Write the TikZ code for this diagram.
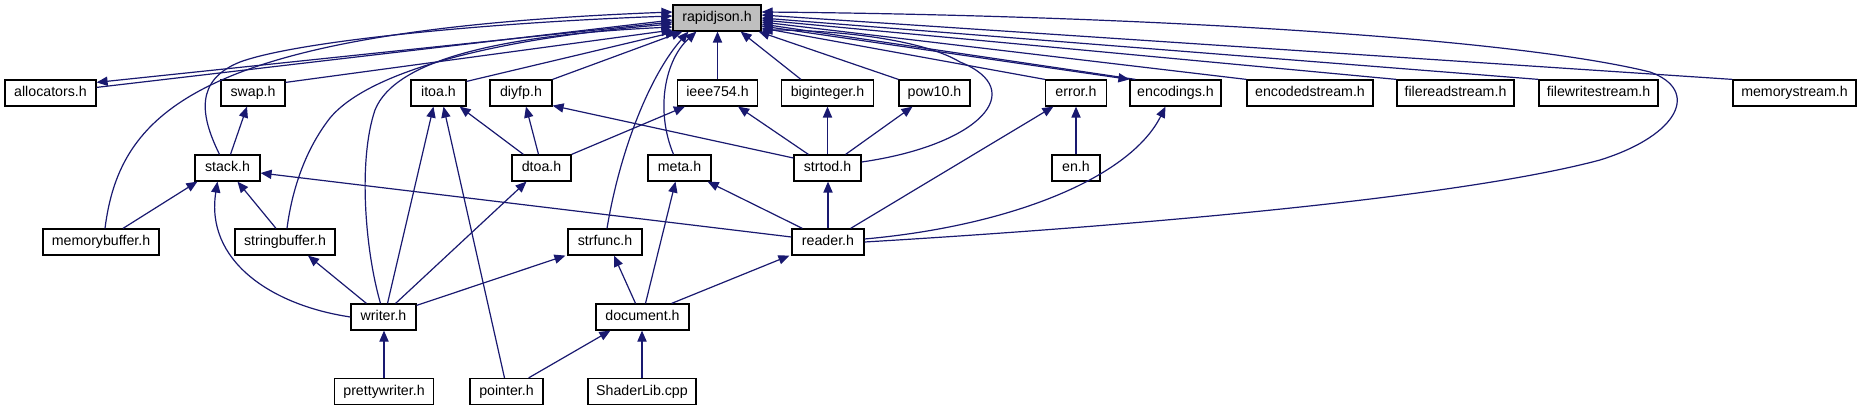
\documentclass[tikz,border=0pt]{standalone}
\usepackage{fontspec}
\setmainfont{Liberation Sans}
\usetikzlibrary{arrows.meta,calc}
\definecolor{mblue}{HTML}{191970}
\definecolor{rjgray}{HTML}{BFBFBF}
\begin{document}
\begin{tikzpicture}[x=0.5pt,y=-0.5pt,
  nd/.style={draw=black, line width=0.6pt, fill=white, minimum height=13pt, inner sep=0pt,
    text height=5.2pt, text depth=1.5pt, font=\fontsize{7.1}{8.5}\selectfont},
  e/.style={draw=mblue, line width=0.6pt, -{Triangle[length=5.5pt,width=4.6pt]}, mblue}]
\fill[white] (0,0) rectangle (1861,411);
\useasboundingbox (0,0) rectangle (1861,411);
% row 0
\node[nd, fill=rjgray, minimum width=44pt] (rj) at (717,18) {rapidjson.h};
% row 1
\node[nd, minimum width=45.5pt] (alloc) at (50.5,93) {allocators.h};
\node[nd, minimum width=32pt] (swap) at (253,93) {swap.h};
\node[nd, minimum width=27.5pt] (itoa) at (438.5,93) {itoa.h};
\node[nd, minimum width=31pt] (diyfp) at (521,93) {diyfp.h};
\node[nd, minimum width=40pt] (ieee) at (717.5,93) {ieee754.h};
\node[nd, minimum width=46pt] (bigint) at (827.5,93) {biginteger.h};
\node[nd, minimum width=35.5pt] (pow10) at (934.5,93) {pow10.h};
\node[nd, minimum width=30.5pt] (error) at (1076,93) {error.h};
\node[nd, minimum width=45.5pt] (enc) at (1175.5,93) {encodings.h};
\node[nd, minimum width=63pt] (encs) at (1310,93) {encodedstream.h};
\node[nd, minimum width=58.5pt] (frs) at (1455.5,93) {filereadstream.h};
\node[nd, minimum width=59.5pt] (fws) at (1598.5,93) {filewritestream.h};
\node[nd, minimum width=61.5pt] (ms) at (1794.5,93) {memorystream.h};
% row 2
\node[nd, minimum width=32.5pt] (stack) at (227.5,168) {stack.h};
\node[nd, minimum width=29.5pt] (dtoa) at (541.5,168) {dtoa.h};
\node[nd, minimum width=31.5pt] (meta) at (679.5,168) {meta.h};
\node[nd, minimum width=33.5pt] (strtod) at (827.5,168) {strtod.h};
\node[nd, minimum width=24pt] (en) at (1076,168) {en.h};
% row 3
\node[nd, minimum width=58pt] (mb) at (101,242) {memorybuffer.h};
\node[nd, minimum width=50pt] (sb) at (285,242) {stringbuffer.h};
\node[nd, minimum width=37pt] (strfunc) at (605,242) {strfunc.h};
\node[nd, minimum width=36pt] (reader) at (828,242) {reader.h};
% row 4
\node[nd, minimum width=32.5pt] (writer) at (383.5,317) {writer.h};
\node[nd, minimum width=46.5pt] (doc) at (642.5,317) {document.h};
% row 5
\node[nd, minimum width=49.5pt] (pw) at (384,391.5) {prettywriter.h};
\node[nd, minimum width=36.5pt] (ptr) at (506.5,391.5) {pointer.h};
\node[nd, minimum width=54pt] (shader) at (642,391.5) {ShaderLib.cpp};

% edges into rapidjson.h (left side)
\draw[e] ($(alloc.north east)+(0,8)$) -- ($(rj.west)+(0,2)$);
\draw[e] ($(rj.west)+(0,4)$) -- ($(alloc.north east)+(0,3)$);
\draw[e] ($(swap.north east)+(0,3)$) -- ($(rj.west)+(0,12)$);
\draw[e] ($(mb.north)+(4,0)$) .. controls (120,110) and (200,30) .. ($(rj.west)+(0,-6)$);
\draw[e] ($(stack.north)+(-8,0)$) .. controls (200,115) and (195,80) .. (240,62)
   .. controls (300,40) and (500,22) .. ($(rj.west)+(0,-2)$);
\draw[e] ($(sb.north)+(2,0)$) .. controls (292,190) and (305,150) .. (330,118)
   .. controls (370,70) and (500,38) .. ($(rj.west)+(0,6)$);
\draw[e] ($(writer.north)+(-3,0)$) .. controls (365,250) and (358,160) .. (375,110)
   .. controls (395,60) and (500,35) .. ($(rj.west)+(0,9)$);
% bottom side
\draw[e] ($(itoa.north east)+(0,2)$) -- ($(rj.south west)+(4,0)$);
\draw[e] (diyfp.north east) -- ($(rj.south west)+(10,0)$);
\draw[e] ($(strfunc.north)+(2,0)$) .. controls (620,150) and (650,75) .. ($(rj.south west)+(16,0)$);
\draw[e] ($(meta.north)+(-6,0)$) .. controls (655,110) and (665,60) .. ($(rj.south west)+(24,0)$);
\draw[e] (ieee.north) -- (ieee.north |- rj.south);
\draw[e] ($(bigint.north west)+(20,0)$) -- ($(rj.south east)+(-21,0)$);
\draw[e] (pow10.north west) -- ($(rj.south east)+(-3,0)$);
% right side
\draw[e] (error.north west) -- ($(rj.east)+(0,10)$);
\draw[e] ($(enc.north west)+(6,0)$) -- ($(rj.east)+(0,6)$);
\draw[e] ($(rj.east)+(0,8)$) -- (enc.north west);
\draw[e] (encs.north west) -- ($(rj.east)+(0,4)$);
\draw[e] (frs.north west) -- ($(rj.east)+(0,2)$);
\draw[e] (fws.north west) -- ($(rj.east)+(0,0)$);
\draw[e] (ms.north west) -- ($(rj.east)+(0,-3)$);
\draw[e] ($(strtod.east)+(0,-6)$) .. controls (980,145) and (1030,90) .. (960,62)
   .. controls (920,38) and (830,30) .. ($(rj.east)+(0,12)$);
\draw[e] (reader.east) .. controls (1100,228) and (1450,200) .. (1600,160)
   .. controls (1680,135) and (1700,90) .. (1650,72)
   .. controls (1500,35) and (1100,15) .. ($(rj.east)+(0,-6)$);

% row 1 <- row 2 and below
\draw[e] ($(stack.north)+(3,0)$) -- ($(swap.south)+(-6,0)$);
\draw[e] ($(writer.north)+(4,0)$) -- ($(itoa.south)+(-5,0)$);
\draw[e] ($(ptr.north)+(-2,0)$) -- ($(itoa.south)+(5,0)$);
\draw[e] ($(dtoa.north west)+(12,0)$) -- ($(itoa.south east)+(-7,0)$);
\draw[e] ($(dtoa.north)+(-3,0)$) -- ($(diyfp.south)+(5,0)$);
\draw[e] (dtoa.north east) -- ($(ieee.south west)+(8,0)$);
\draw[e] ($(strtod.west)+(0,-10)$) -- ($(diyfp.south east)+(0,-1)$);
\draw[e] ($(strtod.north west)+(15,0)$) -- ($(ieee.south east)+(-20,0)$);
\draw[e] (strtod.north) -- (bigint.south);
\draw[e] ($(strtod.north east)+(-16,0)$) -- ($(pow10.south)+(-22,0)$);
\draw[e] (en.north) -- (error.south);
\draw[e] (reader) -- (error);
\draw[e] ($(reader.east)+(0,-3)$) .. controls (1010,226) and (1130,178) .. ($(enc.south)+(-10,0)$);

% row 2 <- below
\draw[e] ($(mb.north)+(22,0)$) -- ($(stack.south west)+(3,0)$);
\draw[e] ($(sb.north)+(-9,0)$) -- ($(stack.south)+(10,0)$);
\draw[e] (writer.west) .. controls (270,305) and (205,260) .. ($(stack.south)+(-10,0)$);
\draw[e] ($(reader.west)+(0,-5)$) -- ($(stack.east)+(0,5)$);
\draw[e] ($(writer.north east)+(-21,0)$) -- ($(dtoa.south)+(-15,0)$);
\draw[e] (reader.north) -- (reader.north |- strtod.south);
\draw[e] ($(reader.north west)+(11,0)$) -- ($(meta.south east)+(-4,0)$);
\draw[e] ($(doc.north)+(3,0)$) -- ($(meta.south)+(-4,0)$);

% row 3 <- below
\draw[e] ($(doc.north)+(-7,0)$) -- ($(strfunc.south)+(9,0)$);
\draw[e] ($(doc.north east)+(-18,0)$) -- ($(reader.south west)+(-2,0)$);
\draw[e] ($(writer.north west)+(16,0)$) -- ($(sb.south)+(23,0)$);
\draw[e] ($(writer.north east)+(0,2)$) -- ($(strfunc.south west)+(-2,0)$);

% row 4 <- row 5
\draw[e] (pw.north) -- (pw.north |- writer.south);
\draw[e] ($(ptr.north east)+(-15,0)$) -- ($(doc.south west)+(15,0)$);
\draw[e] (shader.north) -- (shader.north |- doc.south);
\end{tikzpicture}
\end{document}
